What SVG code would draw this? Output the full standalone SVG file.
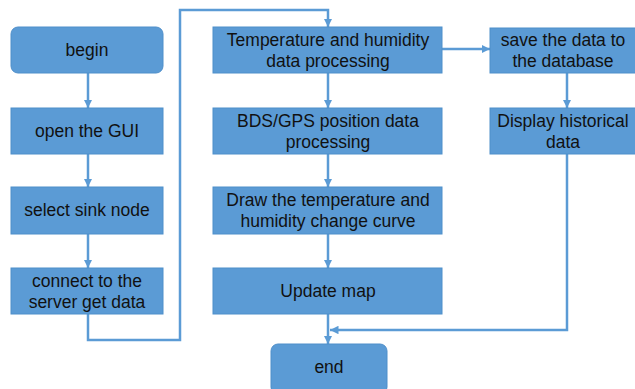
<svg xmlns="http://www.w3.org/2000/svg" width="635" height="389" viewBox="0 0 635 389">
<defs>
<style>
.box{fill:#5b9bd5;stroke:#4f8fca;stroke-width:1}
.t{font-family:"Liberation Sans",Arial,sans-serif;font-size:17.5px;fill:#111;text-anchor:middle}
.c{fill:none;stroke:#5b9bd5;stroke-width:2.5}
</style>
<marker id="ah" viewBox="0 0 10 10" refX="10" refY="5" markerWidth="3.4" markerHeight="3.4" orient="auto" markerUnits="strokeWidth">
<path d="M0,0 L10,5 L0,10 z" fill="#5b9bd5"/>
</marker>
</defs>
<rect width="635" height="389" fill="#fff"/>
<g id="connectors">
<path class="c" d="M88,73 V108" marker-end="url(#ah)"/>
<path class="c" d="M88,154 V187" marker-end="url(#ah)"/>
<path class="c" d="M88,234 V268" marker-end="url(#ah)"/>
<path class="c" d="M88,314 V340 H180 V10 H328 V27" marker-end="url(#ah)"/>
<path class="c" d="M328,73 V108" marker-end="url(#ah)"/>
<path class="c" d="M328,154 V187" marker-end="url(#ah)"/>
<path class="c" d="M328,234 V268" marker-end="url(#ah)"/>
<path class="c" d="M328,314 V344" marker-end="url(#ah)"/>
<path class="c" d="M442,49 H490" marker-end="url(#ah)"/>
<path class="c" d="M567,73 V108" marker-end="url(#ah)"/>
<path class="c" d="M567,154 V330 H330" marker-end="url(#ah)"/>
</g>
<g id="begin"><rect class="box" x="11" y="27" width="152" height="46" rx="7"/><text class="t" x="87" y="56">begin</text></g>
<g id="open-gui"><rect class="box" x="11" y="108" width="152" height="46"/><text class="t" x="87" y="137">open the GUI</text></g>
<g id="select-sink"><rect class="box" x="11" y="187" width="152" height="47"/><text class="t" x="87" y="216">select sink node</text></g>
<g id="connect-server"><rect class="box" x="11" y="268" width="152" height="46"/><text class="t" x="87" y="287">connect to the</text><text class="t" x="87" y="308">server get data</text></g>
<g id="temp-humidity"><rect class="box" x="213" y="27" width="229" height="46"/><text class="t" x="328" y="46">Temperature and humidity</text><text class="t" x="328" y="67">data processing</text></g>
<g id="bds-gps"><rect class="box" x="213" y="108" width="229" height="46"/><text class="t" x="328" y="127">BDS/GPS position data</text><text class="t" x="328" y="148">processing</text></g>
<g id="draw-curve"><rect class="box" x="213" y="187" width="229" height="47"/><text class="t" x="328" y="206">Draw the temperature and</text><text class="t" x="328" y="227">humidity change curve</text></g>
<g id="update-map"><rect class="box" x="213" y="268" width="229" height="46"/><text class="t" x="328" y="297">Update map</text></g>
<g id="end"><rect class="box" x="271" y="344" width="116" height="50" rx="7"/><text class="t" x="329" y="373">end</text></g>
<g id="save-db"><rect class="box" x="490" y="28" width="150" height="45"/><text class="t" x="563" y="46">save the data to</text><text class="t" x="563" y="67">the database</text></g>
<g id="display-history"><rect class="box" x="490" y="108" width="150" height="46"/><text class="t" x="563" y="127">Display historical</text><text class="t" x="563" y="148">data</text></g>
</svg>
